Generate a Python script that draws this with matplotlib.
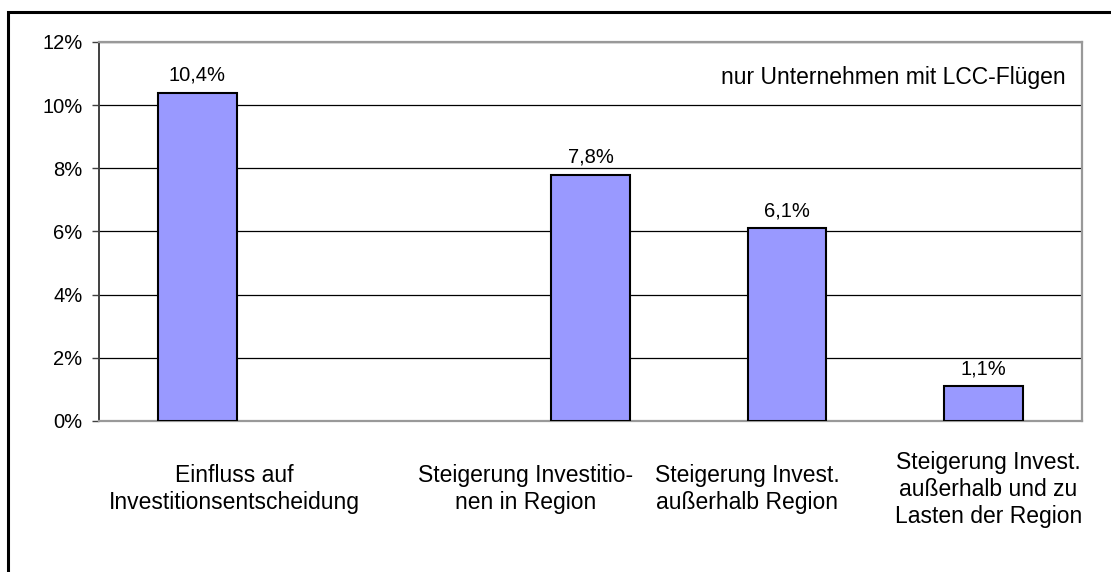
import matplotlib
matplotlib.use("Agg")
import matplotlib.pyplot as plt
from matplotlib.patches import Rectangle

plt.rcParams['font.family'] = ['Liberation Sans', 'DejaVu Sans']

# data: 5 category slots, the 2nd one is left empty in the original
slot_pos = [0, 2, 3, 4]
values = [10.4, 7.8, 6.1, 1.1]
value_labels = ['10,4%', '7,8%', '6,1%', '1,1%']
cat_labels = ['Einfluss auf\nInvestitionsentscheidung',
              'Steigerung Investitio-\nnen in Region',
              'Steigerung Invest.\naußerhalb Region',
              'Steigerung Invest.\naußerhalb und zu\nLasten der Region']
# where the category texts sit (in slot units, as in the source chart)
cat_label_pos = [0.187, 1.672, 2.796, 4.024]
y_ticks = [0, 2, 4, 6, 8, 10, 12]
note = 'nur Unternehmen mit LCC-Flügen'

fig = plt.figure(figsize=(11.11, 5.72), dpi=100)
ax = fig.add_axes([0.0891, 0.2640, 0.8848, 0.6626])

# outer chart border (runs off the right and bottom edge)
fig.patches.append(Rectangle((0.0072, -0.2), 1.5, 1.179, transform=fig.transFigure,
                             fill=False, edgecolor='black', linewidth=2.2))

bars = ax.bar(slot_pos, values, width=0.40, color='#9999ff',
              edgecolor='black', linewidth=1.5, zorder=3)
for b, lbl in zip(bars, value_labels):
    ax.annotate(lbl, (b.get_x() + b.get_width() / 2, b.get_height()),
                xytext=(0, 8.5), textcoords='offset points',
                ha='center', va='baseline', fontsize=14.5)

ax.set_xlim(-0.5, 4.5)
ax.set_ylim(0, 12)
ax.set_yticks(y_ticks)
ax.set_yticklabels([f'{t}%' for t in y_ticks])
ax.yaxis.grid(True, color='black', linewidth=0.9, zorder=0)
ax.set_axisbelow(True)

ax.set_xticks(cat_label_pos)
ax.set_xticklabels(cat_labels, fontsize=16.5, linespacing=1.22)
for t in ax.get_xticklabels():
    t.set_verticalalignment('center')
ax.tick_params(axis='x', length=0, pad=49)
ax.tick_params(axis='y', length=5, width=1, color='#404040', pad=7, labelsize=14.5)

for s in ['top', 'right', 'bottom']:
    ax.spines[s].set_color('#999999')
    ax.spines[s].set_linewidth(1.6)
ax.spines['left'].set_color('#404040')
ax.spines['left'].set_linewidth(1.4)

ax.text(0.983, 10.67, note, transform=ax.get_yaxis_transform(), ha='right',
        va='baseline', fontsize=16.5)

fig.savefig('out.png', dpi=100)
